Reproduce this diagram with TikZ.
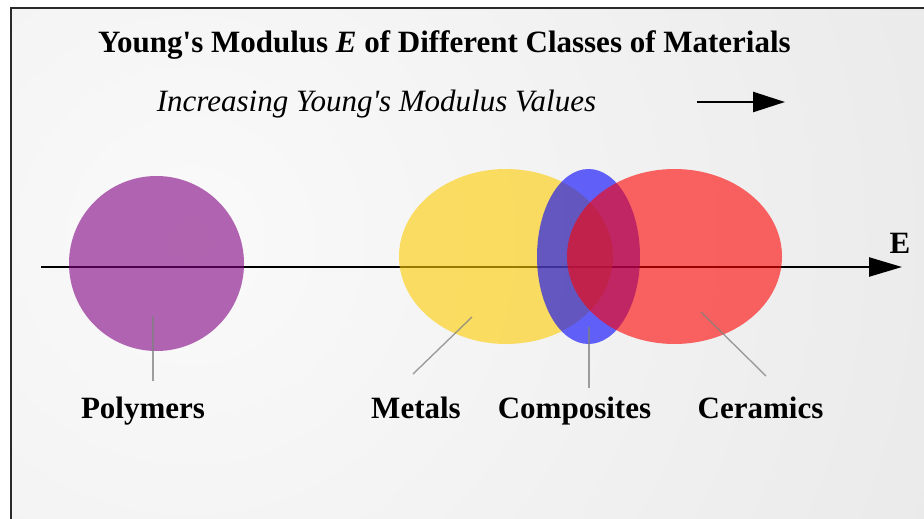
\documentclass[tikz,border=0pt]{standalone}
\usepackage{fontspec}
\setmainfont{Liberation Serif}
\usetikzlibrary{arrows.meta}

\definecolor{polyfill}{HTML}{800080}
\definecolor{metalfill}{HTML}{FFCC00}
\definecolor{compfill}{HTML}{0000FF}
\definecolor{ceramfill}{HTML}{FF0000}
\definecolor{framegray}{HTML}{2A2A2A}
\definecolor{bginner}{HTML}{FAFAFA}
\definecolor{bgouter}{HTML}{E0E0E0}

\tikzset{
  bigtext/.style={font=\fontsize{31}{37}\selectfont\bfseries, anchor=base, inner sep=0pt},
  subtext/.style={font=\fontsize{31}{37}\selectfont\itshape, anchor=base, inner sep=0pt},
  leader/.style={draw=gray, draw opacity=0.75, line width=1.4pt},
  axisline/.style={line width=2.4pt, -{Triangle[length=33pt,width=19pt]}},
  blob/.style={fill opacity=0.6},
}

\begin{document}
\begin{tikzpicture}[x=1pt,y=-1pt]
  \useasboundingbox (0,0) rectangle (924,519);
  \fill[white] (0,0) rectangle (924,519);

  % panel with soft radial background and frame on the visible edges
  \begin{scope}
    \clip (11,8) rectangle (924,519);
    \shade[inner color=bginner, outer color=bgouter] (190,240) circle (1300);
  \end{scope}
  \draw[framegray, line width=2pt] (11,521) -- (11,8) -- (926,8);

  % title and subtitle
  \node[bigtext] (title) at (444.5,53) {Young\textquotesingle s Modulus \textit{E} of Different Classes of Materials};
  \node[subtext] (subtitle) at (376.5,111) {Increasing Young\textquotesingle s Modulus Values};

  % direction arrow
  \coordinate (dirA) at (697,102);
  \coordinate (dirB) at (785,102);
  \draw[line width=2.4pt, -{Triangle[length=32pt,width=20pt]}] (dirA) -- (dirB);

  % E axis
  \coordinate (axA) at (41,267);
  \coordinate (axB) at (902,267);
  \draw[axisline] (axA) -- (axB);
  \node[bigtext] (elabel) at (900,253) {E};

  % material classes
  \fill[polyfill, blob] (156.5,263.5) circle (87.5);
  \fill[metalfill, blob] (506,256.5) ellipse [x radius=107, y radius=87.5];
  \fill[compfill, blob] (588.5,256.5) ellipse [x radius=51.5, y radius=87.5];
  \fill[ceramfill, blob] (674.5,256.5) ellipse [x radius=107.5, y radius=87.5];

  % labels
  \node[bigtext] (polymers) at (143,418) {Polymers};
  \node[bigtext] (metals) at (416,418) {Metals};
  \node[bigtext] (composites) at (574.5,418) {Composites};
  \node[bigtext] (ceramics) at (760.5,418) {Ceramics};

  % leader lines
  \coordinate (polyIn) at (153,316);
  \coordinate (polyOut) at (153,381);
  \coordinate (metalIn) at (472,317);
  \coordinate (metalOut) at (413,374);
  \coordinate (compIn) at (589,327);
  \coordinate (compOut) at (589,388);
  \coordinate (ceramIn) at (701,312);
  \coordinate (ceramOut) at (766,376);
  \draw[leader] (polyIn) -- (polyOut);
  \draw[leader] (metalIn) -- (metalOut);
  \draw[leader] (compIn) -- (compOut);
  \draw[leader] (ceramIn) -- (ceramOut);
\end{tikzpicture}
\end{document}
